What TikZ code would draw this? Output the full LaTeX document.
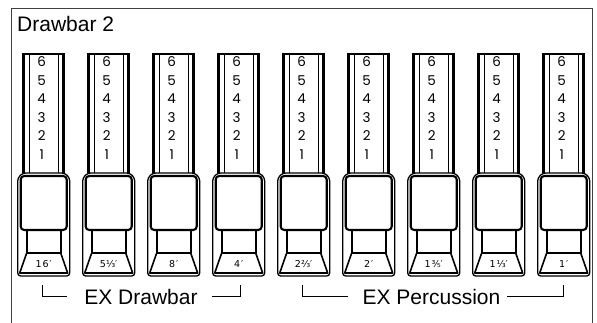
\documentclass[tikz,border=0pt]{standalone}
\usepackage{fontspec}
\setmainfont{Liberation Sans}
\newfontfamily\digitfont{Poppins}
\newfontfamily\labelfont{DejaVu Sans}
\begin{document}
\begin{tikzpicture}[x=1pt,y=-1pt,
  rodout/.style={line width=2.6pt, line join=miter},
  rodin/.style={line width=1.4pt},
  hout/.style={line width=1.3pt, rounded corners=3pt, fill=white},
  face/.style={line width=2.1pt, rounded corners=3.5pt},
  neck/.style={line width=1.6pt, line join=round},
  digit/.style={font=\digitfont\fontsize{13.5}{14}\selectfont, inner sep=0pt},
  footlab/.style={font=\labelfont\fontsize{9.5}{10}\selectfont, inner sep=0pt},
  big/.style={font=\fontsize{21}{24}\selectfont, inner sep=0pt, anchor=base},
  frameline/.style={line width=1pt, draw=black!75},
  bracket/.style={line width=1pt}]
\useasboundingbox (0,0) rectangle (597,323);
\draw[frameline] (11,323) -- (11,9) -- (592,9) -- (592,323);
\node[big, anchor=base west] (title) at (17,31.5) {Drawbar 2};
\foreach \lab [count=\i from 0] in {1\kern1pt6\kern1pt′, 5⅓′, 8\kern1pt′, 4\kern1pt′, 2⅔′, 2\kern1pt′, 1\kern1pt⅗′, 1\kern1pt⅓′, 1\kern1pt′} {
  \pgfmathsetmacro\cx{43.7+65*\i}
  \draw[rodout] (\cx-20,173) -- (\cx-20,54) -- (\cx+20,54) -- (\cx+20,173);
  \draw[rodin] (\cx-14.5,54) -- (\cx-14.5,173);
  \draw[rodin] (\cx+15,54) -- (\cx+15,173);
  \foreach \n [count=\k from 0] in {6,5,4,3,2,1} {
    \node[digit] (d\i-\n) at (\cx-2,62+18.5*\k) {\n};
  }
  \draw[hout] (\cx-21,173) -- (\cx+21,173) -- (\cx+26,178) -- (\cx+26,276) -- (\cx-26,276) -- (\cx-26,178) -- cycle;
  \draw[face] (\cx-23,176) rectangle (\cx+23,230);
  \draw[neck] (\cx-17,230) -- (\cx-17,253) -- (\cx+17,253) -- (\cx+17,230);
  \draw[neck] (\cx-17,253) -- (\cx-24,273) -- (\cx+24,273) -- (\cx+17,253);
  \node[footlab] (l\i) at (\cx,264) {\lab};
}
\node[big] (exd) at (141,304) {EX Drawbar};
\draw[bracket] (42,285) -- (42,296) -- (67,296);
\draw[bracket] (212,296) -- (240,296) -- (240,285);
\node[big] (exp) at (431.5,304) {EX Percussion};
\draw[bracket] (302,285) -- (302,296) -- (348,296);
\draw[bracket] (507,296) -- (563,296) -- (563,285);
\end{tikzpicture}
\end{document}
